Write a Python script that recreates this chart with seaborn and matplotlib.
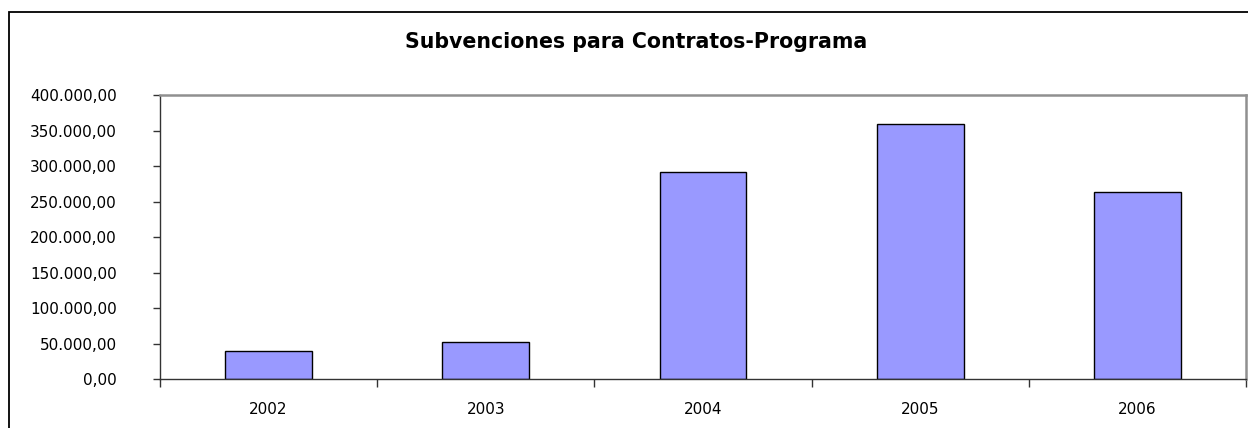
import matplotlib
matplotlib.use("Agg")
import matplotlib.pyplot as plt
import matplotlib.ticker as mticker
from matplotlib.patches import Rectangle
import seaborn as sns
import pandas as pd
import numpy as np

years = ["2002", "2003", "2004", "2005", "2006"]
amounts = [40300, 52100, 292000, 358600, 264000]
y_ticks = [0, 50000, 100000, 150000, 200000, 250000, 300000, 350000, 400000]

sns.set_style("white")
plt.rcParams['font.family'] = ['DejaVu Sans']
plt.rcParams['text.color'] = 'black'
plt.rcParams['xtick.color'] = 'black'
plt.rcParams['ytick.color'] = 'black'

df = pd.DataFrame({"year": years, "amount": amounts})

fig = plt.figure(figsize=(12.48, 4.28), dpi=100)
ax = fig.add_axes([160 / 1248, 1 - 379.3 / 428, 1086 / 1248, (379.3 - 95) / 428])

sns.barplot(data=df, x="year", y="amount", color="#9999FF", width=0.4,
            edgecolor="black", linewidth=1.0, saturation=1, ax=ax)

ax.set_xlim(-0.5, len(years) - 0.5)
ax.set_ylim(0, 400000)
ax.set_yticks(y_ticks)


def es_fmt(v, pos):
    s = f"{v:,.2f}"
    return s.replace(",", "X").replace(".", ",").replace("X", ".")


ax.yaxis.set_major_formatter(mticker.FuncFormatter(es_fmt))
ax.set_xlabel("")
ax.set_ylabel("")

# category boundary ticks on x, labels centred under bars
ax.set_xticks(np.arange(-0.5, len(years)), minor=True)
ax.tick_params(axis="x", which="major", bottom=True, length=0, pad=16, labelsize=11)
ax.tick_params(axis="x", which="minor", bottom=True, length=6, width=1,
               color="#333333", direction="out")
ax.tick_params(axis="y", which="major", left=True, length=5, width=1,
               color="#333333", direction="out", pad=26, labelsize=11)

for side in ["left", "bottom"]:
    ax.spines[side].set_color("#333333")
    ax.spines[side].set_linewidth(1)
for side in ["top", "right"]:
    ax.spines[side].set_color("#909090")
    ax.spines[side].set_linewidth(1.8)

fig.text(636 / 1248, 1 - 42 / 428, "Subvenciones para Contratos-Programa",
         ha="center", va="center", fontsize=14.8, fontweight="bold", color="black")

# outer chart frame
fig.patches.append(Rectangle((9 / 1248, -0.1), 1.2, 1 - 12 / 428 + 0.1,
                             transform=fig.transFigure, fill=False,
                             edgecolor="black", linewidth=1.3))

fig.savefig("out.png", dpi=100)
